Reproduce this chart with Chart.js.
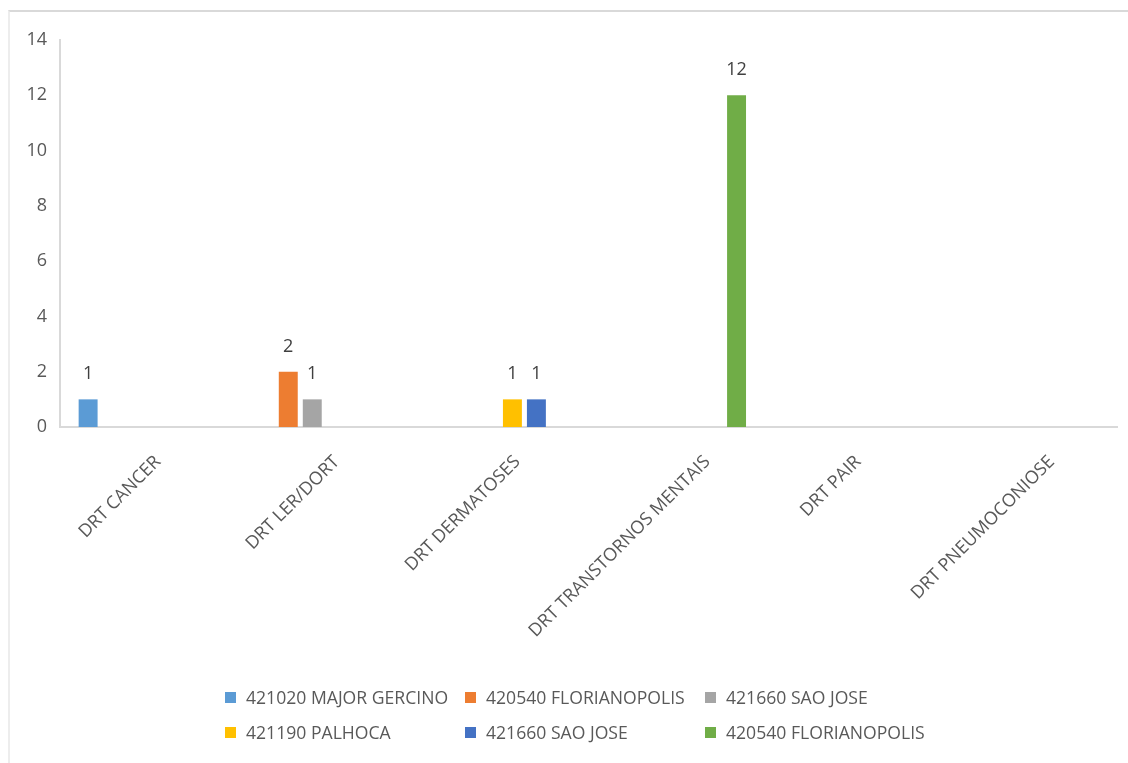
<!DOCTYPE html>
<html>
<head>
<meta charset="utf-8">
<script src="https://cdn.jsdelivr.net/npm/chart.js@4"></script>
<style>
  html, body { margin: 0; padding: 0; background: #fff; }
  #wrap { position: relative; width: 1128px; height: 763px; overflow: hidden; }
  #marco { position: absolute; left: 8px; top: 10px; right: -2px; bottom: -2px;
           border-top: 2px solid #d9d9d9; border-left: 2px solid #ededed; }
  #grafica { position: absolute; left: 0; top: 0; }
  #leyenda { position: absolute; left: 225px; top: 686px;
             display: grid; grid-template-columns: 240px 240px 240px; row-gap: 13px;
             font-family: "Open Sans", sans-serif; font-size: 17.6px; color: #595959; }
  #leyenda .item { display: flex; align-items: center; height: 22px; white-space: nowrap; }
  #leyenda .caja { width: 11px; height: 11px; margin-right: 10px; }
</style>
</head>
<body>
<div id="wrap">
  <div id="marco"></div>
  <canvas id="grafica" width="1128" height="763"></canvas>
  <div id="leyenda"></div>
</div>
<script>
// Categorias del eje X
const categorias = ['DRT CANCER', 'DRT LER/DORT', 'DRT DERMATOSES', 'DRT TRANSTORNOS MENTAIS', 'DRT PAIR', 'DRT PNEUMOCONIOSE'];

// Series (municipios)
const nombresSeries = ['421020 MAJOR GERCINO', '420540 FLORIANOPOLIS', '421660 SAO JOSE', '421190 PALHOCA', '421660 SAO JOSE', '420540 FLORIANOPOLIS'];
const coloresSeries = ['#5B9BD5', '#ED7D31', '#A5A5A5', '#FFC000', '#4472C4', '#70AD47'];

const valoresMajorGercino = [1, null, null, null, null, null];
const valoresFlorianopolis1 = [null, 2, null, null, null, null];
const valoresSaoJose1 = [null, 1, null, null, null, null];
const valoresPalhoca = [null, null, 1, null, null, null];
const valoresSaoJose2 = [null, null, 1, null, null, null];
const valoresFlorianopolis2 = [null, null, null, 12, null, null];

const valoresSeries = [valoresMajorGercino, valoresFlorianopolis1, valoresSaoJose1, valoresPalhoca, valoresSaoJose2, valoresFlorianopolis2];

// Ticks del eje Y
const ejeYMin = 0;
const ejeYMax = 14;
const ejeYPaso = 2;

const fuente = '"Open Sans", sans-serif';

// Etiquetas de valor encima de cada barra
const etiquetasValor = {
    id: 'etiquetasValor',
    afterDatasetsDraw(chart) {
        const ctx = chart.ctx;
        ctx.save();
        ctx.font = '18px ' + fuente;
        ctx.fillStyle = '#404040';
        ctx.textAlign = 'center';
        ctx.textBaseline = 'alphabetic';
        chart.data.datasets.forEach((ds, i) => {
            const meta = chart.getDatasetMeta(i);
            meta.data.forEach((barra, j) => {
                const v = ds.data[j];
                if (v === null || v === undefined) return;
                ctx.fillText(String(v), barra.x, barra.y - 20);
            });
        });
        ctx.restore();
    }
};

// Etiquetas de categoria giradas 45 grados (estilo Excel: se desplazan segun su largo)
const etiquetasCategoria = {
    id: 'etiquetasCategoria',
    afterDraw(chart) {
        const ctx = chart.ctx;
        const escalaX = chart.scales.x;
        ctx.save();
        ctx.font = '18px ' + fuente;
        ctx.fillStyle = '#595959';
        ctx.textAlign = 'right';
        ctx.textBaseline = 'middle';
        chart.data.labels.forEach((texto, i) => {
            const xTick = escalaX.getPixelForTick(i);
            const dx = ctx.measureText(texto).width * Math.SQRT1_2;
            ctx.save();
            ctx.translate(xTick + 0.21 * dx - 6, escalaX.top + 32);
            ctx.rotate(-Math.PI / 4);
            ctx.fillText(texto, 0, 0);
            ctx.restore();
        });
        ctx.restore();
    }
};

const datasets = nombresSeries.map((nombre, i) => ({
    label: nombre,
    data: valoresSeries[i],
    backgroundColor: coloresSeries[i],
    borderWidth: 0,
    categoryPercentage: 0.817,
    barPercentage: 0.79,
}));

new Chart(document.getElementById('grafica'), {
    type: 'bar',
    data: { labels: categorias, datasets: datasets },
    options: {
        responsive: false,
        animation: false,
        layout: { padding: { top: 40, right: 11, left: 0, bottom: 0 } },
        plugins: {
            legend: { display: false },
            tooltip: { enabled: false },
        },
        scales: {
            x: {
                grid: { display: false, drawTicks: false },
                border: { display: true, color: '#d9d9d9', width: 2 },
                ticks: { display: false },
                afterFit(scale) { scale.height = 336; },
            },
            y: {
                min: ejeYMin,
                max: ejeYMax,
                grid: { display: false, drawTicks: false },
                border: { display: true, color: '#d9d9d9', width: 2 },
                ticks: {
                    stepSize: ejeYPaso,
                    color: '#595959',
                    font: { family: fuente, size: 18 },
                    padding: 13,
                },
                afterFit(scale) { scale.width = 60; },
            },
        },
    },
    plugins: [etiquetasValor, etiquetasCategoria],
});

// Leyenda en rejilla de 3 columnas
const leyenda = document.getElementById('leyenda');
nombresSeries.forEach((nombre, i) => {
    const item = document.createElement('div');
    item.className = 'item';
    const caja = document.createElement('span');
    caja.className = 'caja';
    caja.style.background = coloresSeries[i];
    const texto = document.createElement('span');
    texto.textContent = nombre;
    item.appendChild(caja);
    item.appendChild(texto);
    leyenda.appendChild(item);
});
</script>
</body>
</html>
